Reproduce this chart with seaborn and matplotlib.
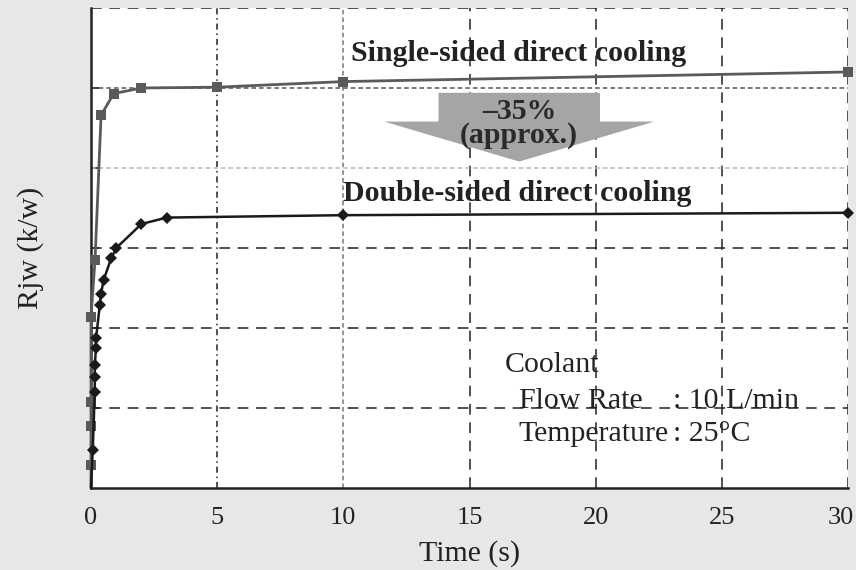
import pandas as pd
import seaborn as sns
import matplotlib.pyplot as plt
from matplotlib.patches import FancyArrow
from matplotlib.transforms import ScaledTranslation

# data (y in grid units, axis has no labels)
t_single = [0.0, 0.0, 0.0, 0.0, 0.0, 0.16, 0.4, 0.9, 2.0, 5.0, 10.0, 30.0]
r_single = [0.0, 0.29, 0.78, 1.08, 2.14, 2.85, 4.66, 4.93, 5.0, 5.01, 5.08, 5.2]

t_double = [0.0, 0.07, 0.15, 0.15, 0.15, 0.2, 0.2, 0.35, 0.4, 0.5, 0.8, 1.0, 2.0, 3.0, 10.0, 30.0]
r_double = [0.0, 0.475, 1.2, 1.39, 1.54, 1.75, 1.87, 2.29, 2.43, 2.6, 2.87, 3.0, 3.3, 3.38, 3.41, 3.44]

x_ticks = [0, 5, 10, 15, 20, 25, 30]

df_s = pd.DataFrame({"t": t_single, "r": r_single})
df_d = pd.DataFrame({"t": t_double, "r": r_double})

sns.set_style("white")
plt.rcParams['font.family'] = ['Liberation Serif', 'DejaVu Serif']
plt.rcParams['font.size'] = 21

txt = '#222222'
fs = 21.5

fig = plt.figure(figsize=(8.56, 5.7), dpi=100, facecolor='#e6e7e9')
ax = fig.add_axes([0.1063, 0.1439, 0.8844, 0.8421])
ax.set_facecolor('white')

# grid lines
blk = dict(color='#222222', lw=1.1, dashes=(7, 5))
for x in [15, 20, 25, 30]:
    ax.axvline(x, **blk, zorder=1)
ax.axvline(5, color='#222222', lw=1.1, dashes=(4, 2.5, 1, 2.5), zorder=1)
ax.axvline(10, color='#777777', lw=1.1, dashes=(3, 2), zorder=1)
for y in [1, 2, 3, 6]:
    ax.axhline(y, **blk, zorder=1)
ax.axhline(5, color='#555555', lw=1.1, dashes=(3, 2), zorder=1)
ax.axhline(4, color='#bbbbbb', lw=1.1, dashes=(3, 2), zorder=1)

# curves
sns.lineplot(data=df_s, x="t", y="r", sort=False, estimator=None, ax=ax,
             color='#5a5a5a', lw=2.0, marker='s', markersize=7.5, markeredgewidth=0,
             markevery=list(range(1, len(t_single))), clip_on=False, zorder=4)
sns.lineplot(data=df_d, x="t", y="r", sort=False, estimator=None, ax=ax,
             color='#1a1a1a', lw=1.8, marker='D', markersize=6, markeredgewidth=0,
             markevery=list(range(1, len(t_double))), clip_on=False, zorder=5)

# arrow
arrow = FancyArrow(16.97, 4.94, 0, -0.86, width=6.4, head_width=10.7, head_length=0.5,
                   length_includes_head=True, color='#a5a5a5', lw=0, zorder=3)
ax.add_patch(arrow)
ax.text(16.97, 4.555, "–35%\n(approx.)", ha='center', va='center', fontsize=fs,
        fontweight='bold', color='#2a2a2a', linespacing=0.85, zorder=6)

ax.text(16.95, 5.43, "Single-sided direct cooling", ha='center', va='center',
        fontsize=fs, fontweight='bold', color=txt, zorder=6)
ax.text(16.9, 3.68, "Double-sided direct cooling", ha='center', va='center',
        fontsize=fs, fontweight='bold', color=txt, zorder=6)

ax.text(16.4, 1.54, "Coolant", ha='left', va='center', fontsize=fs, color=txt, zorder=6)
ax.text(16.95, 1.09, "Flow Rate", ha='left', va='center', fontsize=fs, color=txt, zorder=6)
ax.text(23.05, 1.09, ": 10 L/min", ha='left', va='center', fontsize=fs, color=txt, zorder=6)
ax.text(16.95, 0.67, "Temperature", ha='left', va='center', fontsize=fs, color=txt, zorder=6)
ax.text(23.05, 0.67, ": 25°C", ha='left', va='center', fontsize=fs, color=txt, zorder=6)

ax.set_xlim(0, 30)
ax.set_ylim(0, 6)
ax.set_xticks(x_ticks)
ax.set_xticklabels([str(v) for v in x_ticks], color=txt)
ax.set_yticks([1, 2, 3, 4, 5])
ax.set_yticklabels([])
ax.tick_params(axis='x', length=0, pad=14, labelsize=19)
ax.tick_params(axis='y', direction='in', length=6, width=1.2, color='#222222', left=True)
ax.set_xlabel("Time (s)", fontsize=fs, color=txt, labelpad=8)
ax.set_ylabel("Rjw (k/w)", fontsize=fs, color=txt, labelpad=30)

# last tick label sits a little left, like in the original
last = ax.get_xticklabels()[-1]
last.set_transform(last.get_transform() + ScaledTranslation(-0.07, 0, fig.dpi_scale_trans))

for s in ['top', 'right']:
    ax.spines[s].set_visible(False)
for s in ['left', 'bottom']:
    ax.spines[s].set_color('#222222')
    ax.spines[s].set_linewidth(1.8)

fig.savefig("out.png", dpi=100, facecolor=fig.get_facecolor())
